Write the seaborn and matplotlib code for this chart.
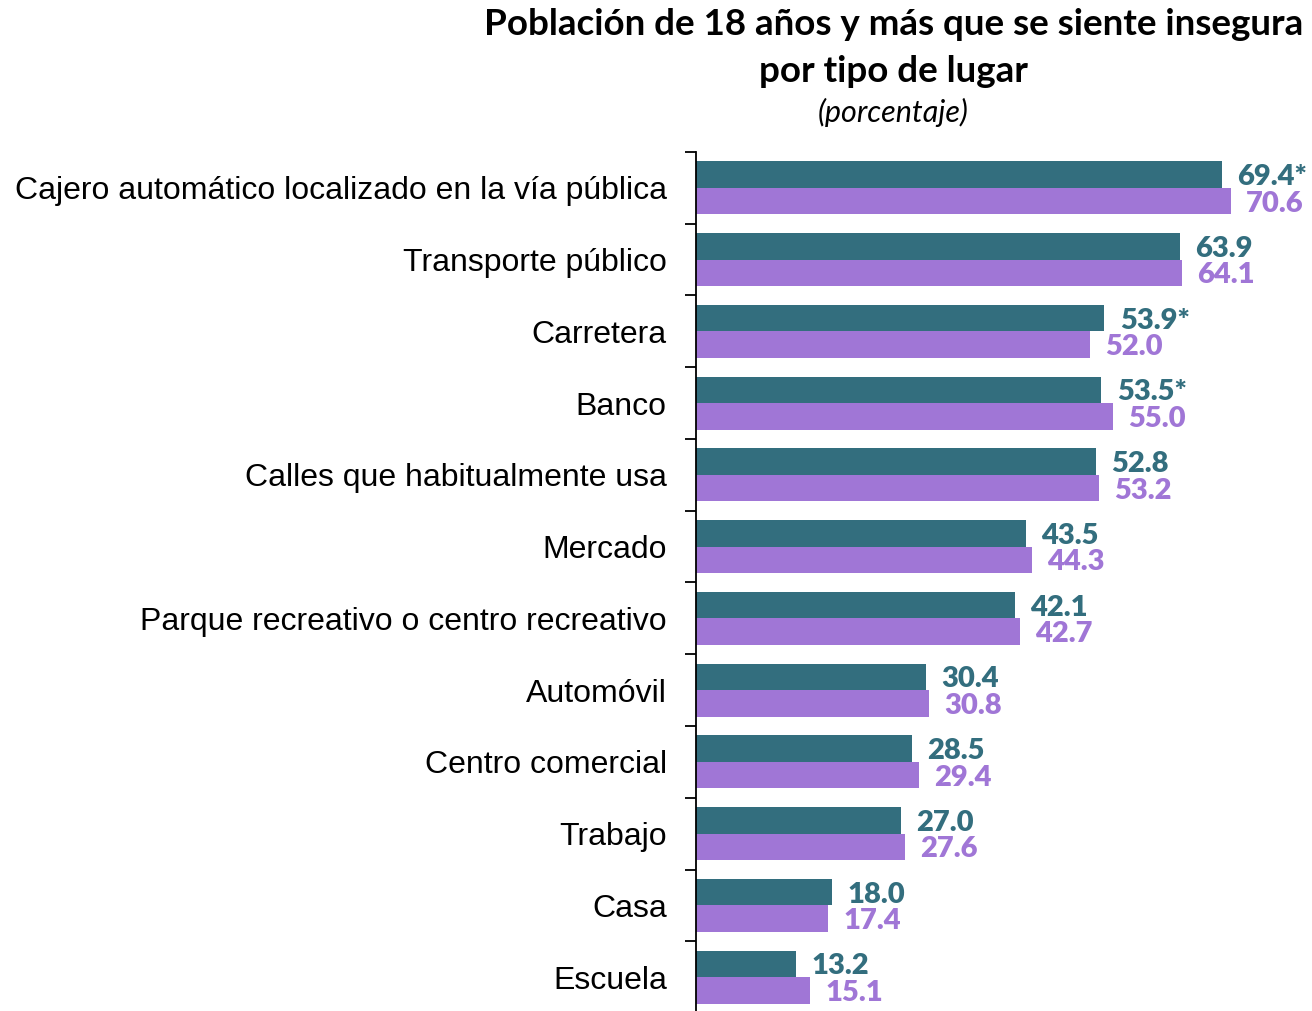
import matplotlib
matplotlib.use("Agg")
import matplotlib.pyplot as plt
import seaborn as sns
import pandas as pd

# datos
lugares = [
    "Cajero automático localizado en la vía pública",
    "Transporte público",
    "Carretera",
    "Banco",
    "Calles que habitualmente usa",
    "Mercado",
    "Parque recreativo o centro recreativo",
    "Automóvil",
    "Centro comercial",
    "Trabajo",
    "Casa",
    "Escuela",
]
serie_anterior = [69.4, 63.9, 53.9, 53.5, 52.8, 43.5, 42.1, 30.4, 28.5, 27.0, 18.0, 13.2]
serie_actual = [70.6, 64.1, 52.0, 55.0, 53.2, 44.3, 42.7, 30.8, 29.4, 27.6, 17.4, 15.1]
etiquetas_anterior = ["69.4*", "63.9", "53.9*", "53.5*", "52.8", "43.5", "42.1",
                      "30.4", "28.5", "27.0", "18.0", "13.2"]
etiquetas_actual = ["70.6", "64.1", "52.0", "55.0", "53.2", "44.3", "42.7",
                    "30.8", "29.4", "27.6", "17.4", "15.1"]
series = ["Anterior", "Actual"]

colores = {"Anterior": "#336E7E", "Actual": "#A076D6"}

df = pd.DataFrame({
    "lugar": lugares * 2,
    "valor": serie_anterior + serie_actual,
    "serie": [series[0]] * len(lugares) + [series[1]] * len(lugares),
})

sns.set_style("white")
plt.rcParams["font.family"] = ["Liberation Sans", "DejaVu Sans"]

fig = plt.figure(figsize=(13.12, 10.11), dpi=100)
ax = fig.add_axes([0.5305, -0.002, 0.4695, 0.8517])

sns.barplot(data=df, x="valor", y="lugar", hue="serie", hue_order=series,
            order=lugares, orient="h", palette=colores, saturation=1,
            width=0.74, linewidth=0, legend=False, ax=ax)

ax.set_xlim(0, 81.3)
ax.set_ylim(len(lugares) - 0.5, -0.5)

# etiquetas de valores
for cont, labs, col in zip(ax.containers, [etiquetas_anterior, etiquetas_actual],
                           [colores["Anterior"], colores["Actual"]]):
    textos = ax.bar_label(cont, labels=labs, padding=11, fontsize=21, color=col,
                          fontweight="heavy", family="Lato")
    for t in textos:
        t.set_va("center_baseline")

for s in ["top", "right", "bottom"]:
    ax.spines[s].set_visible(False)
ax.spines["left"].set_color("black")
ax.spines["left"].set_linewidth(1.3)
ax.set_xticks([])
ax.set_xlabel("")
ax.set_ylabel("")
ax.tick_params(axis="y", which="major", left=True, length=0, pad=21,
               labelsize=23, labelcolor="black")
ax.set_yticks([i - 0.5 for i in range(len(lugares) + 1)], minor=True)
ax.tick_params(axis="y", which="minor", left=True, length=8, width=1.3,
               direction="out", color="black")

fig.text(0.681, 0.976, "Población de 18 años y más que se siente insegura",
         ha="center", va="center", fontsize=26.5, fontweight="bold",
         family="Lato", color="black")
fig.text(0.681, 0.929, "por tipo de lugar",
         ha="center", va="center", fontsize=26.5, fontweight="bold",
         family="Lato", color="black")
fig.text(0.681, 0.889, "(porcentaje)",
         ha="center", va="center", fontsize=22, style="italic",
         family="Lato", color="black")

fig.savefig("out.png", dpi=100)
